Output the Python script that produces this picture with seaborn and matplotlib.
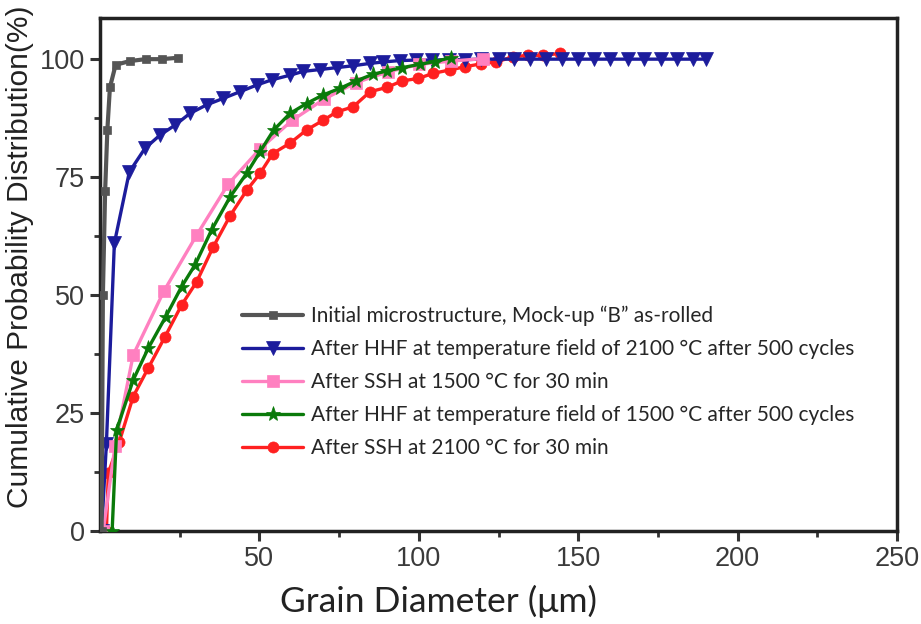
import matplotlib
matplotlib.use("Agg")
import matplotlib.pyplot as plt
import seaborn as sns

# values (grain diameter in um, cumulative %)
init_x = [0.5, 0.9, 1.6, 2.3, 3.1, 4.9, 9.4, 14.3, 19.4, 24.5]
init_y = [0, 50, 72, 85, 94, 98.8, 99.6, 100, 100, 100.3]

hhf2100_x = [0.5, 2.0, 4.5, 9.2, 14.1, 18.8, 23.5, 28.2, 33.4, 38.7, 43.9, 49.1,
             53.8, 59.6, 63.7, 69.0, 74.2, 79.4, 84.7, 88.8, 94.0, 99.0, 104.0,
             109.5, 114.5, 119.5, 125.0, 130.0, 134.8, 139.8, 145.0, 150.0,
             155.0, 160.0, 165.5, 170.5, 176.0, 181.0, 186.0, 190.0]
hhf2100_y = [0, 18.5, 61, 76.1, 81.1, 83.9, 86.0, 88.5, 90.3, 91.7, 93.1, 94.5,
             95.6, 96.6, 97.4, 97.8, 98.2, 98.6, 99.1, 99.4, 99.7, 99.8, 99.8,
             99.9, 99.9, 100, 100, 100, 100, 100, 100, 100,
             100, 100, 100, 100, 100, 100, 100, 100]

ssh1500_x = [1.0, 4.7, 10.4, 20.0, 30.3, 40.2, 50.2, 60.2, 70.2, 80.2, 90.2, 100.2, 110.2, 120.0]
ssh1500_y = [0, 18, 37.3, 50.8, 62.7, 73.5, 81.0, 87.0, 91.5, 95.0, 97.3, 98.9, 99.6, 100.1]

hhf1500_x = [3.8, 5.2, 10.4, 15.1, 20.6, 25.6, 29.8, 35.0, 40.8, 46.0, 50.2, 54.5,
             59.6, 64.8, 69.9, 75.2, 80.4, 85.6, 90.0, 94.8, 100.3, 105.0, 110.0]
hhf1500_y = [0, 21.4, 32.0, 38.7, 45.4, 51.8, 56.4, 63.8, 70.8, 75.8, 80.4, 85.0,
             88.5, 90.6, 92.4, 93.8, 95.4, 96.8, 97.5, 98.2, 98.9, 99.5, 100.3]

ssh2100_x = [2.0, 2.6, 6.0, 10.4, 15.1, 20.4, 25.6, 30.3, 35.5, 40.8, 46.0, 50.2,
             54.2, 59.6, 64.8, 69.9, 74.2, 79.4, 84.7, 89.9, 94.8, 99.8, 104.5,
             109.7, 114.5, 119.5, 124.3, 129.5, 134.2, 138.9, 144.2]
ssh2100_y = [0, 12.3, 18.8, 28.5, 34.5, 41.2, 47.9, 52.8, 60.2, 66.8, 72.2, 75.8,
             80.0, 82.2, 85.0, 87.0, 88.8, 89.9, 93.1, 94.0, 95.4, 95.9, 97.0,
             97.7, 98.4, 99.0, 99.4, 100.5, 100.8, 100.8, 101.2]

labels = [
    "Initial microstructure, Mock-up \u201cB\u201d as-rolled",
    "After HHF at temperature field of 2100 \u00b0C after 500 cycles",
    "After SSH at 1500 \u00b0C for 30 min",
    "After HHF at temperature field of 1500 \u00b0C after 500 cycles",
    "After SSH at 2100 \u00b0C for 30 min",
]
colors = ["#555555", "#1c1c9c", "#ff80c0", "#0a7a0a", "#ff2020"]

sns.set_style("white")
arial = ["Liberation Sans", "DejaVu Sans"]

fig = plt.figure(figsize=(9.21, 6.24), dpi=100)
ax = fig.add_axes([0.1086, 0.149, 0.8654, 0.822])

# draw order (bottom -> top) follows the reference overlaps
series = [
    (4, ssh2100_x, ssh2100_y, "o", 8),
    (1, hhf2100_x, hhf2100_y, "v", 9.5),
    (2, ssh1500_x, ssh1500_y, "s", 9),
    (3, hhf1500_x, hhf1500_y, "*", 11),
    (0, init_x, init_y, "s", 6),
]
handles = {}
for z, (i, xs, ys, mk, ms) in enumerate(series):
    sns.lineplot(x=xs, y=ys, ax=ax, color=colors[i], marker=mk, markersize=ms,
                 markeredgecolor=colors[i], markeredgewidth=0.5,
                 linewidth=3.0 if i == 0 else 2.4,
                 label=labels[i], zorder=3 + z, sort=False)
    handles[i] = ax.lines[-1]

ax.set_xlim(0, 250)
ax.set_ylim(0, 108.7)
ax.set_xticks([50, 100, 150, 200, 250])
ax.set_xticks([25, 75, 125, 175, 225], minor=True)
ax.set_yticks([0, 25, 50, 75, 100])
ax.set_yticks([12.5, 37.5, 62.5, 87.5], minor=True)
ax.tick_params(axis="both", which="major", direction="out", length=7, width=2.2,
               color="#333333", labelsize=19.5, labelcolor="#3a3a3a",
               bottom=True, left=True, pad=4)
ax.tick_params(axis="both", which="minor", direction="out", length=4, width=2.0,
               color="#333333", bottom=True, left=True)
for lab in ax.get_xticklabels() + ax.get_yticklabels():
    lab.set_family(arial)
for s in ax.spines.values():
    s.set_linewidth(2.5)
    s.set_color("#222222")

ax.set_xlabel("Grain Diameter (\u03bcm)", fontsize=25.5, family=["Lato", "DejaVu Sans"],
              color="#222222")
ax.xaxis.set_label_coords(0.425, -0.105)
ax.set_ylabel("Cumulative Probability Distribution(%)", fontsize=21.5, family=arial,
              color="#222222")
ax.yaxis.set_label_coords(-0.083, 0.534)

leg = ax.legend([handles[i] for i in range(5)], labels, loc="upper left",
                bbox_to_anchor=(0.155, 0.475), frameon=False, handlelength=2.9,
                handletextpad=0.4, labelspacing=0.62,
                prop={"family": ["Lato", "DejaVu Sans"], "size": 15})

fig.savefig("out.png", dpi=100)
